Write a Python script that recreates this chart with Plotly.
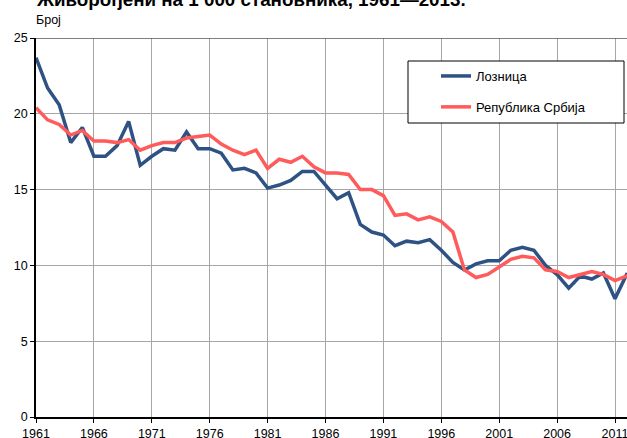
import plotly.graph_objects as go

years = list(range(1961, 2014))
loznica = [23.7, 21.7, 20.6, 18.1, 19.1, 17.2, 17.2, 17.9, 19.5, 16.6,
           17.2, 17.7, 17.6, 18.8, 17.7, 17.7, 17.4, 16.3, 16.4, 16.1,
           15.1, 15.3, 15.6, 16.2, 16.2, 15.3, 14.4, 14.8, 12.7, 12.2,
           12.0, 11.3, 11.6, 11.5, 11.7, 11.0, 10.2, 9.7, 10.1, 10.3,
           10.3, 11.0, 11.2, 11.0, 10.0, 9.4, 8.5, 9.3, 9.1, 9.5,
           7.8, 9.4, 9.3]
srbija = [20.4, 19.6, 19.3, 18.6, 18.9, 18.2, 18.2, 18.1, 18.3, 17.6,
          17.9, 18.1, 18.1, 18.4, 18.5, 18.6, 18.0, 17.6, 17.3, 17.6,
          16.4, 17.0, 16.8, 17.2, 16.5, 16.1, 16.1, 16.0, 15.0, 15.0,
          14.6, 13.3, 13.4, 13.0, 13.2, 12.9, 12.2, 9.7, 9.2, 9.4,
          9.9, 10.4, 10.6, 10.5, 9.7, 9.6, 9.2, 9.4, 9.6, 9.4,
          9.0, 9.3, 9.2]
x_ticks = list(range(1961, 2012, 5))
y_ticks = [0, 5, 10, 15, 20, 25]
series_names = ["Лозница", "Република Србија"]
title_text = "Живорођени на 1 000 становника, 1961—2013."
unit_text = "Број"

BLUE = "#2E5283"
RED = "#FF5B5B"
FONT = "Liberation Sans, Arial, sans-serif"

fig = go.Figure()
fig.add_trace(go.Scatter(x=years, y=loznica, mode="lines", name=series_names[0],
                         legendgroup="a", line=dict(color=BLUE, width=3.5)))
fig.add_trace(go.Scatter(x=years, y=srbija, mode="lines", name=series_names[1],
                         legendgroup="b", line=dict(color=RED, width=3.5)))

L, R, T, B = 36, 0, 38, 21
W, H = 627, 438
pw, ph = W - L - R, H - T - B

def px_x(px):
    return (px - L) / pw

def px_y(py):
    return (H - B - py) / ph

fig.update_layout(
    width=W, height=H,
    margin=dict(l=L, r=R, t=T, b=B, pad=0, autoexpand=False),
    paper_bgcolor="white", plot_bgcolor="white",
    font=dict(family=FONT, size=12, color="#000000"),
    showlegend=True,
    legend=dict(x=px_x(436), y=px_y(61), xanchor="left", yanchor="top",
                bgcolor="rgba(0,0,0,0)", borderwidth=0,
                traceorder="grouped", tracegroupgap=11,
                font=dict(family=FONT, size=13, color="#000")),
    xaxis=dict(range=[1961, 1961 + pw / 11.58], tickmode="array", tickvals=x_ticks,
               ticktext=[str(v) for v in x_ticks], automargin=False,
               ticklabeloverflow="allow",
               showgrid=True, gridcolor="#A6A6A6", gridwidth=1,
               showline=True, linecolor="#000", linewidth=1.5,
               ticks="outside", ticklen=4, tickcolor="#000",
               zeroline=False, tickfont=dict(size=12.5)),
    yaxis=dict(range=[0, 25], tickmode="array", tickvals=y_ticks, automargin=False,
               ticklabeloverflow="allow",
               showgrid=True, gridcolor="#A6A6A6", gridwidth=1,
               showline=True, linecolor="#000", linewidth=1.5,
               ticks="outside", ticklen=4, tickcolor="#000",
               zeroline=False, tickfont=dict(size=12.5)),
    shapes=[
        dict(type="line", xref="paper", yref="y", x0=0, x1=1, y0=25, y1=25,
             line=dict(color="#555555", width=1.5)),
        dict(type="rect", xref="paper", yref="paper",
             x0=px_x(408), x1=px_x(624), y0=px_y(123), y1=px_y(61),
             line=dict(color="#000", width=1), fillcolor="white", layer="above"),
    ],
    annotations=[
        dict(text="<b>" + title_text + "</b>", xref="paper", yref="paper",
             x=px_x(34), y=px_y(-1), xanchor="left", yanchor="middle",
             showarrow=False, font=dict(family=FONT, size=18.8, color="#000")),
        dict(text=unit_text, xref="paper", yref="paper",
             x=px_x(34), y=px_y(19.5), xanchor="left", yanchor="middle",
             showarrow=False, font=dict(family=FONT, size=12.5, color="#000")),
    ],
)

fig.write_html("out.html", config={"displayModeBar": False},
               post_script="document.body.style.margin='0';document.body.style.overflow='hidden';")
